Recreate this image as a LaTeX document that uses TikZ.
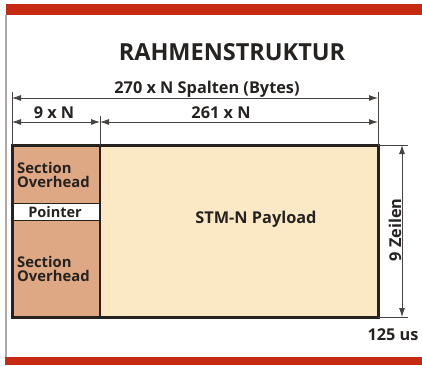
\documentclass[tikz,border=0pt]{standalone}
\usepackage{fontspec}
\setmainfont{Open Sans}
\usetikzlibrary{arrows.meta}
\definecolor{redbar}{RGB}{198,42,18}
\definecolor{sofill}{RGB}{222,168,132}
\definecolor{payfill}{RGB}{251,233,198}
\definecolor{ink}{RGB}{38,34,32}
\definecolor{frame}{RGB}{175,170,170}
\tikzset{
  dim/.style={draw=ink!85, line width=0.8pt, {Latex[length=9pt,width=6pt]}-{Latex[length=9pt,width=6pt]}},
  tick/.style={draw=ink!85, line width=0.7pt},
  lbl/.style={text=ink, font=\fontsize{16.3}{18}\selectfont\bfseries, inner sep=0pt},
  sotext/.style={text=ink, font=\fontsize{14.8}{14}\selectfont\bfseries, align=left, inner sep=0pt, anchor=west},
}
\begin{document}
\begin{tikzpicture}[x=1pt,y=-1pt]
\useasboundingbox (0,0) rectangle (422,365);
% frame
\fill[redbar] (6,4) rectangle (422,15);
\fill[redbar] (5,357) rectangle (422,365);
\draw[frame, line width=1.2pt] (6,15) -- (6,357);
% coordinates
\coordinate (tl) at (12,145);
\coordinate (br) at (378,317);
\coordinate (mt) at (100,145);
\coordinate (mb) at (100,317);
\coordinate (a1) at (12,98);
\coordinate (a2) at (378,98);
\coordinate (b1) at (12,122);
\coordinate (b2) at (100,122);
\coordinate (b3) at (378,122);
\coordinate (t1) at (12,92);
\coordinate (t2) at (100,116);
\coordinate (t3) at (378,92);
\coordinate (r1) at (378,145);
\coordinate (r2) at (378,317);
\coordinate (r1e) at (408,145);
\coordinate (r2e) at (408,317);
\coordinate (v1) at (402,145);
\coordinate (v2) at (402,317);
% fills
\fill[sofill] (12,145) rectangle (100,203);
\fill[white] (12,203) rectangle (100,220);
\fill[sofill] (12,220) rectangle (100,317);
\fill[payfill] (100,145) rectangle (378,317);
\draw[ink, line width=0.9pt] (12,203) -- (100,203) (12,220) -- (100,220);
\draw[ink, line width=3pt] (tl) rectangle (br);
\draw[ink, line width=2.5pt] (mt) -- (mb);
% ticks
\draw[tick] (t1) -- (tl);
\draw[tick] (t2) -- (mt);
\draw[tick] (t3) -- (r1);
\draw[tick] (r1) -- (r1e);
\draw[tick] (r2) -- (r2e);
% dimension arrows
\draw[dim] (a1) -- (a2);
\draw[dim] (b1) -- (b2);
\draw[dim] (b2) -- (b3);
\draw[dim] (v1) -- (v2);
% texts
\node[text=ink, font=\fontsize{23.5}{25}\selectfont\bfseries, inner sep=0pt] (title) at (232,52) {RAHMENSTRUKTUR};
\node[lbl] (l270) at (207,89) {270 x N Spalten (Bytes)};
\node[lbl] (l9) at (54,113) {9 x N};
\node[lbl] (l261) at (221,113) {261 x N};
\node[sotext] (so1) at (17,175) {Section\\Overhead};
\node[text=ink, font=\fontsize{14.5}{15}\selectfont\bfseries, inner sep=0pt] (ptr) at (55,212) {Pointer};
\node[sotext] (so2) at (17,269) {Section\\Overhead};
\node[lbl] (pay) at (256,219) {STM-N Payload};
\node[lbl, rotate=90] (zeilen) at (395,230) {9 Zeilen};
\node[lbl] (us) at (393,335) {125 us};
\end{tikzpicture}
\end{document}
